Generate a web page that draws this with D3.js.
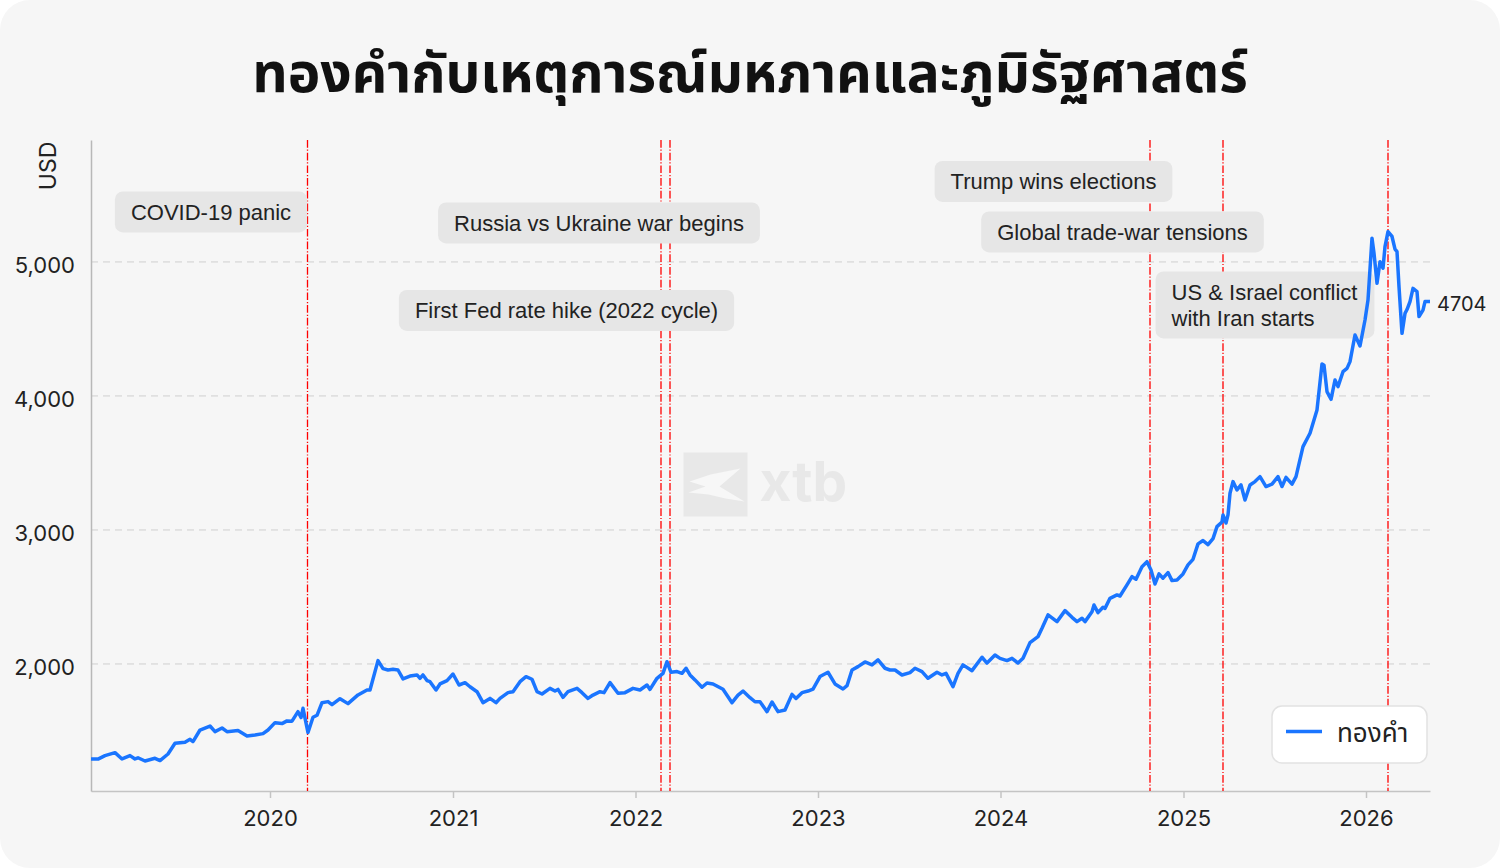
<!DOCTYPE html>
<html>
<head>
<meta charset="utf-8">
<script src="https://cdn.jsdelivr.net/npm/d3@7"></script>
<style>
  html, body { margin: 0; padding: 0; background: #ffffff; }
  svg { display: block; }
</style>
</head>
<body>
<div id="chart"></div>
<script>
// ---------------- DATA ----------------
const titleText = "ทองคำกับเหตุการณ์มหภาคและภูมิรัฐศาสตร์";
const seriesName = "ทองคำ";
const yLabel = "USD";

// gold price (USD/oz)
const dates = [
  "2019-01-08","2019-01-22","2019-02-05","2019-02-25","2019-03-11","2019-03-27","2019-04-06","2019-04-12",
  "2019-04-26","2019-05-16","2019-05-26","2019-06-11","2019-06-25","2019-07-15","2019-07-25","2019-07-31",
  "2019-08-14","2019-08-24","2019-09-03","2019-09-13","2019-09-27","2019-10-07","2019-10-29","2019-11-16",
  "2019-12-02","2019-12-18","2019-12-28","2020-01-11","2020-01-25","2020-02-04","2020-02-14","2020-02-26",
  "2020-03-03","2020-03-07","2020-03-17","2020-03-27","2020-04-04","2020-04-14","2020-04-26","2020-05-04",
  "2020-05-20","2020-06-05","2020-06-25","2020-07-13","2020-07-19","2020-08-04","2020-08-14","2020-08-24",
  "2020-09-03","2020-09-13","2020-09-23","2020-10-07","2020-10-21","2020-10-27","2020-11-02","2020-11-10",
  "2020-11-16","2020-11-28","2020-12-06","2020-12-20","2021-01-01","2021-01-13","2021-01-25","2021-02-04",
  "2021-02-18","2021-03-02","2021-03-16","2021-03-28","2021-04-05","2021-04-21","2021-05-01","2021-05-15",
  "2021-05-27","2021-06-08","2021-06-18","2021-06-28","2021-07-14","2021-07-24","2021-07-30","2021-08-09",
  "2021-08-19","2021-09-06","2021-09-16","2021-09-28","2021-10-08","2021-10-22","2021-10-30","2021-11-11",
  "2021-11-27","2021-12-11","2021-12-27","2022-01-10","2022-01-24","2022-01-30","2022-02-13","2022-02-25",
  "2022-03-05","2022-03-13","2022-03-25","2022-04-04","2022-04-12","2022-04-20","2022-04-30","2022-05-14",
  "2022-05-24","2022-06-05","2022-06-25","2022-07-13","2022-07-25","2022-08-04","2022-08-18","2022-08-28",
  "2022-09-07","2022-09-21","2022-10-01","2022-10-13","2022-10-27","2022-11-10","2022-11-18","2022-11-30",
  "2022-12-12","2022-12-22","2023-01-05","2023-01-21","2023-02-04","2023-02-20","2023-02-28","2023-03-10",
  "2023-03-22","2023-04-05","2023-04-19","2023-05-01","2023-05-15","2023-05-25","2023-06-04","2023-06-18",
  "2023-07-04","2023-07-14","2023-07-28","2023-08-09","2023-08-27","2023-09-06","2023-09-14","2023-09-28",
  "2023-10-08","2023-10-18","2023-11-05","2023-11-25","2023-12-05","2023-12-21","2023-12-31","2024-01-14",
  "2024-01-24","2024-02-05","2024-02-15","2024-02-29","2024-03-16","2024-03-24","2024-04-05","2024-04-23",
  "2024-05-09","2024-05-23","2024-06-02","2024-06-12","2024-06-18","2024-07-02","2024-07-06","2024-07-14",
  "2024-07-24","2024-07-28","2024-08-07","2024-08-21","2024-08-27","2024-09-10","2024-09-20","2024-09-28",
  "2024-10-10","2024-10-20","2024-10-28","2024-11-05","2024-11-13","2024-11-21","2024-12-01","2024-12-09",
  "2024-12-19","2024-12-31","2025-01-10","2025-01-20","2025-01-30","2025-02-09","2025-02-19","2025-03-01",
  "2025-03-09","2025-03-19","2025-03-21","2025-03-27","2025-03-31","2025-04-04","2025-04-10","2025-04-18",
  "2025-04-26","2025-05-04","2025-05-14","2025-05-24","2025-06-03","2025-06-15","2025-06-27","2025-07-09",
  "2025-07-17","2025-07-25","2025-08-06","2025-08-14","2025-08-28","2025-09-11","2025-09-25","2025-10-05",
  "2025-10-09","2025-10-15","2025-10-23","2025-10-31","2025-11-06","2025-11-16","2025-11-24","2025-11-30",
  "2025-12-10","2025-12-20","2025-12-30","2026-01-05","2026-01-13","2026-01-17","2026-01-23","2026-01-29",
  "2026-02-04","2026-02-08","2026-02-14","2026-02-22","2026-02-28","2026-03-04","2026-03-08","2026-03-14",
  "2026-03-20","2026-03-24","2026-03-30","2026-04-05","2026-04-13","2026-04-17","2026-04-25","2026-04-29",
  "2026-05-09"
];
const prices = [
  1291,1290,1316,1338,1291,1316,1291,1300,
  1276,1296,1279,1328,1408,1416,1438,1421,
  1507,1522,1537,1495,1522,1495,1503,1463,
  1470,1480,1507,1562,1555,1575,1573,1644,
  1600,1669,1488,1602,1617,1711,1719,1696,
  1741,1704,1769,1806,1806,2025,1965,1955,
  1960,1955,1888,1910,1918,1893,1918,1876,
  1868,1806,1851,1876,1925,1843,1860,1830,
  1793,1711,1743,1711,1743,1786,1793,1868,
  1905,1886,1793,1776,1818,1798,1810,1751,
  1793,1818,1786,1743,1768,1793,1786,1861,
  1781,1786,1818,1806,1843,1810,1893,1930,
  2017,1938,1943,1930,1968,1918,1881,1826,
  1858,1851,1811,1711,1768,1798,1748,1718,
  1718,1644,1716,1644,1656,1773,1743,1786,
  1798,1813,1906,1938,1851,1813,1838,1955,
  1980,2015,1993,2030,1968,1955,1955,1918,
  1935,1968,1943,1893,1938,1918,1930,1831,
  1930,1993,1950,2050,2007,2067,2042,2025,
  2042,2007,2042,2159,2204,2266,2366,2316,
  2398,2348,2316,2341,2316,2390,2440,2383,
  2423,2415,2490,2515,2507,2590,2652,2632,
  2726,2763,2701,2597,2672,2640,2682,2622,
  2627,2672,2739,2781,2896,2921,2890,2935,
  3025,3060,3112,3052,3112,3274,3361,3299,
  3336,3224,3336,3361,3398,3324,3342,3398,
  3324,3392,3342,3398,3622,3722,3896,4239,
  4230,4032,3975,4119,4070,4181,4206,4256,
  4455,4373,4567,4716,5177,5065,4841,5002,
  4953,5114,5226,5190,5096,5077,4816,4467,
  4616,4645,4704,4803,4779,4592,4641,4704,
  4704
];

// y axis
const yTicks = [2000, 3000, 4000, 5000];
const yDomain = [1052, 5910];

// events (vertical lines) and their labels
const eventDates = ["2020-03-16", "2022-02-21", "2022-03-11", "2024-10-26", "2025-03-21", "2026-02-14"];
const eventLabels = [
  ["COVID-19 panic"],
  ["Russia vs Ukraine war begins"],
  ["First Fed rate hike (2022 cycle)"],
  ["Trump wins elections"],
  ["Global trade-war tensions"],
  ["US & Israel conflict", "with Iran starts"]
];
// where each label box sits (centre, in data units)
const labelDates = ["2019-09-05", "2021-10-20", "2021-08-16", "2024-04-16", "2024-09-01", "2025-06-13"];
const labelValues = [5373, 5291, 4638, 5601, 5224, 4679];

// ---------------- CHART ----------------
const W = 1500, H = 868;
const margin = { top: 140, right: 70, bottom: 77, left: 91 };
const innerW = W - margin.left - margin.right;
const innerH = H - margin.top - margin.bottom;

const parse = d3.timeParse("%Y-%m-%d");
const series = dates.map((d, i) => ({ date: parse(d), value: prices[i] }));

const tickFont = "Inter, 'Noto Sans', sans-serif";
const boxFont = "'Liberation Sans', Arial, sans-serif";
const thaiFont = "'Noto Sans Thai', 'Noto Sans', 'DejaVu Sans', sans-serif";

const svg = d3.select("#chart").append("svg")
  .attr("width", W)
  .attr("height", H);

// card background
svg.append("rect")
  .attr("width", W).attr("height", H)
  .attr("rx", 30).attr("ry", 30)
  .attr("fill", "#f6f6f6");

// title
svg.append("text")
  .attr("x", W / 2)
  .attr("y", 92)
  .attr("text-anchor", "middle")
  .attr("font-family", thaiFont)
  .attr("font-size", 55)
  .attr("font-weight", 700)
  .attr("fill", "#111")
  .text(titleText);

const g = svg.append("g")
  .attr("transform", `translate(${margin.left},${margin.top})`);

const x = d3.scaleTime()
  .domain(d3.extent(series, d => d.date))
  .range([0, innerW]);

const y = d3.scaleLinear()
  .domain(yDomain)
  .range([innerH, 0]);

// watermark
const wm = g.append("g")
  .attr("transform", `translate(${innerW / 2 - 77},${innerH / 2 - 13})`);
wm.append("rect")
  .attr("width", 64).attr("height", 64)
  .attr("fill", "#e8e8e8");
wm.append("path")
  .attr("d", "M6,29 L27,22 L57,16 L36,34 L61,49 L42,46 L25,42 L5,40 L22,34 Z")
  .attr("fill", "#f7f7f7");
wm.append("text")
  .attr("x", 76).attr("y", 48)
  .attr("font-family", tickFont)
  .attr("font-size", 55)
  .attr("font-weight", 700)
  .attr("fill", "#e8e8e8")
  .text("xtb");

// grid
g.append("g")
  .selectAll("line")
  .data(yTicks)
  .join("line")
  .attr("x1", 0).attr("x2", innerW)
  .attr("y1", d => y(d)).attr("y2", d => y(d))
  .attr("stroke", "#cfcfcf")
  .attr("stroke-width", 1)
  .attr("stroke-dasharray", "7,5");

// axes
const xAxis = d3.axisBottom(x)
  .ticks(d3.timeYear.every(1))
  .tickFormat(d3.timeFormat("%Y"))
  .tickSize(7)
  .tickSizeOuter(0)
  .tickPadding(12);

const xg = g.append("g")
  .attr("transform", `translate(0,${innerH})`)
  .call(xAxis);
xg.select(".domain").attr("stroke", "#c4c4c4").attr("stroke-width", 1.5);
xg.selectAll(".tick line").attr("stroke", "#c4c4c4").attr("stroke-width", 1.5);
xg.selectAll(".tick text")
  .attr("font-family", tickFont)
  .attr("font-size", 22)
  .attr("fill", "#222");

const yAxis = d3.axisLeft(y)
  .tickValues(yTicks)
  .tickFormat(d3.format(","))
  .tickSize(0)
  .tickSizeOuter(0)
  .tickPadding(16);

const yg = g.append("g").call(yAxis);
yg.select(".domain").attr("stroke", "#b8b8b8").attr("stroke-width", 1.5);
yg.selectAll(".tick text")
  .attr("font-family", tickFont)
  .attr("font-size", 22)
  .attr("dy", "0.5em")
  .attr("fill", "#222");

// y label
svg.append("text")
  .attr("transform", `translate(56,${margin.top + 26}) rotate(-90)`)
  .attr("text-anchor", "middle")
  .attr("font-family", tickFont)
  .attr("font-size", 23)
  .attr("fill", "#222")
  .text(yLabel);

// event lines
g.append("g")
  .selectAll("line")
  .data(eventDates)
  .join("line")
  .attr("x1", d => x(parse(d))).attr("x2", d => x(parse(d)))
  .attr("y1", 0).attr("y2", innerH)
  .attr("stroke", "#ff0000")
  .attr("stroke-width", 1.3)
  .attr("stroke-dasharray", "7.7,1.9,1.2,1.9");

// event label boxes (on top of the red lines, under the price line)
const lineH = 26;
eventLabels.forEach((lines, i) => {
  const cx = x(parse(labelDates[i]));
  const cy = y(labelValues[i]);
  const lg = g.append("g");
  const rect = lg.append("rect")
    .attr("fill", "#e6e6e6")
    .attr("rx", 8).attr("ry", 8);
  const t = lg.append("text")
    .attr("font-family", boxFont)
    .attr("font-size", 22)
    .attr("fill", "#222");
  lines.forEach((s, j) => {
    t.append("tspan")
      .attr("x", 0)
      .attr("y", (j - (lines.length - 1) / 2) * lineH)
      .attr("dy", "0.35em")
      .text(s);
  });
  const bb = t.node().getBBox();
  const padX = 16, padY = 9.5;
  const bw = bb.width + padX * 2;
  const bh = (lines.length - 1) * lineH + 22 + padY * 2;
  const left = cx - bw / 2;
  t.attr("transform", `translate(${left + padX},${cy})`);
  rect.attr("x", left).attr("y", cy - bh / 2)
    .attr("width", bw).attr("height", bh);
});

// price line
const line = d3.line()
  .x(d => x(d.date))
  .y(d => y(d.value));

g.append("path")
  .datum(series)
  .attr("d", line)
  .attr("fill", "none")
  .attr("stroke", "#1a75ff")
  .attr("stroke-width", 3.5)
  .attr("stroke-linejoin", "round");

// last value label
const last = series[series.length - 1];
g.append("text")
  .attr("x", x(last.date) + 7)
  .attr("y", y(last.value) + 2)
  .attr("dy", "0.35em")
  .attr("font-family", tickFont)
  .attr("font-size", 20)
  .attr("fill", "#222")
  .text(last.value);

// legend
const legW = 155, legH = 57;
const leg = g.append("g")
  .attr("transform", `translate(${innerW - legW - 3},${innerH - legH - 28})`);
leg.append("rect")
  .attr("width", legW).attr("height", legH)
  .attr("rx", 10).attr("ry", 10)
  .attr("fill", "#ffffff")
  .attr("stroke", "#e2e2e2")
  .attr("stroke-width", 1.5);
leg.append("line")
  .attr("x1", 14).attr("x2", 50)
  .attr("y1", legH / 2 - 3).attr("y2", legH / 2 - 3)
  .attr("stroke", "#1a75ff")
  .attr("stroke-width", 3.5);
leg.append("text")
  .attr("x", 65)
  .attr("y", legH / 2 - 2)
  .attr("dy", "0.35em")
  .attr("font-family", thaiFont)
  .attr("font-size", 26)
  .attr("fill", "#222")
  .text(seriesName);
</script>
</body>
</html>
